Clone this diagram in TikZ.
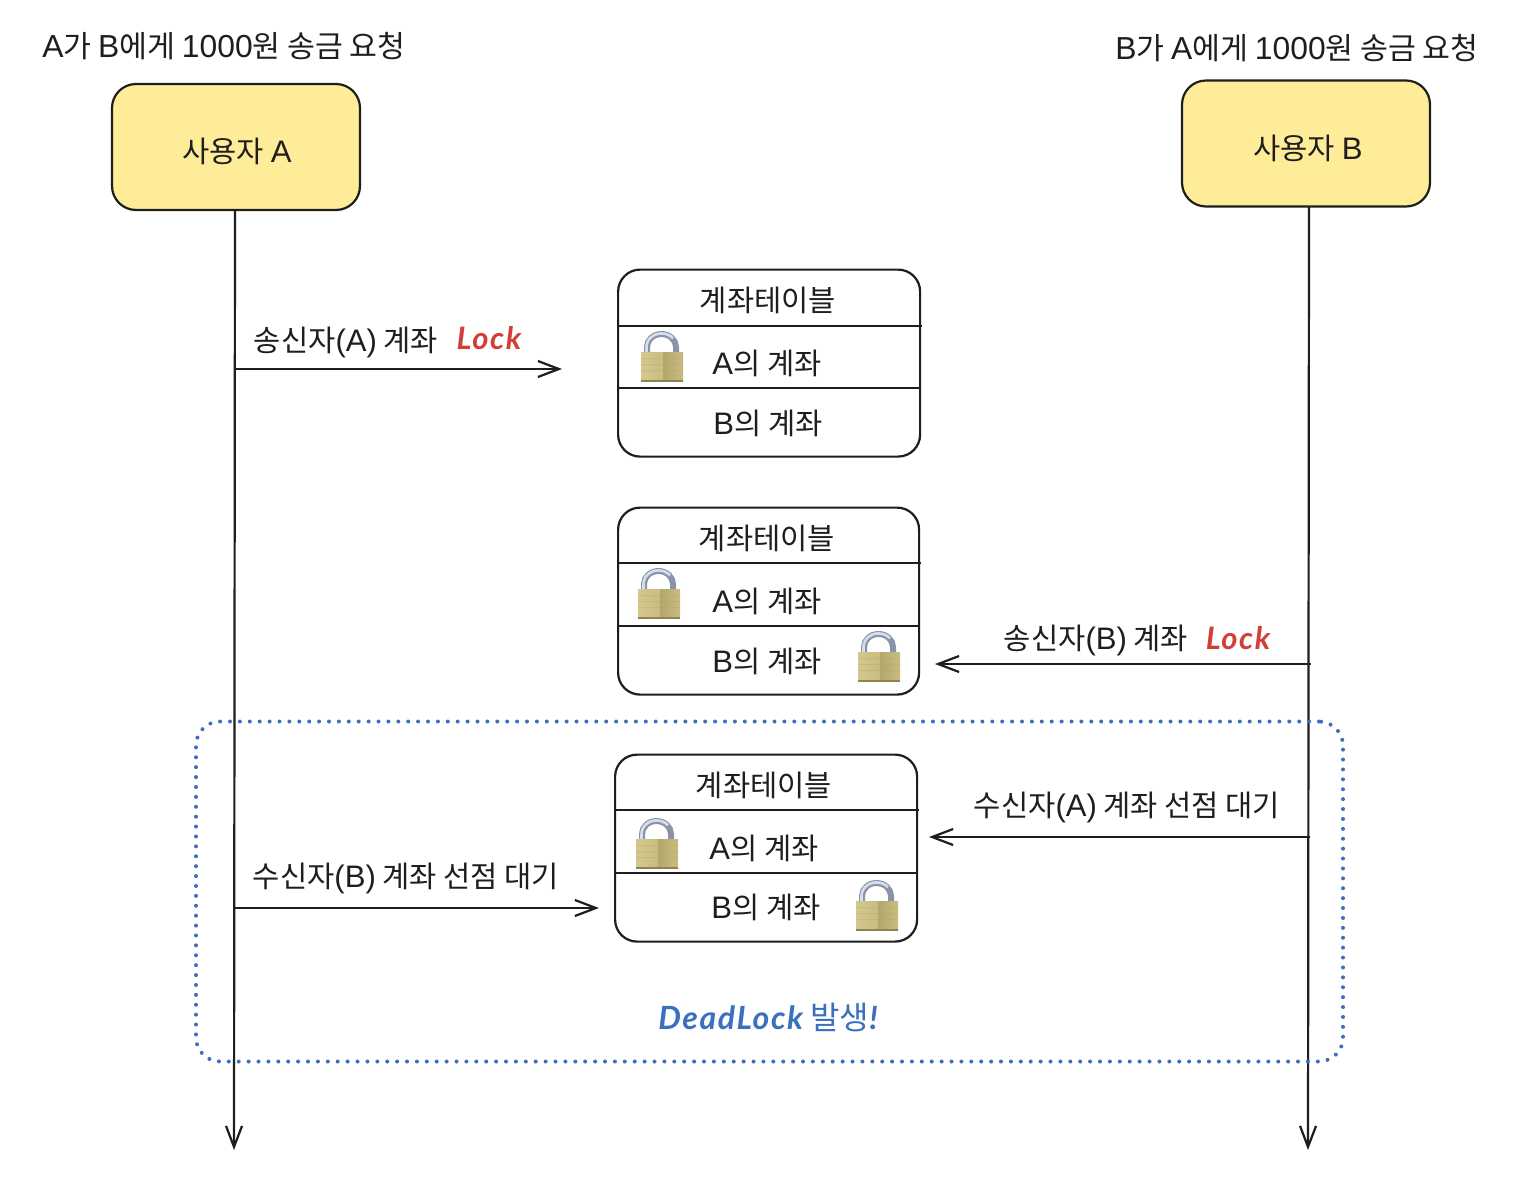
\documentclass[tikz,border=0pt]{standalone}
\usepackage{fontspec}
\setmainfont{Noto Sans CJK KR}
\newfontfamily\latf[Scale=1.05]{Liberation Sans}
\newfontfamily\handf[LetterSpace=5]{Lato}
\newcommand{\la}[1]{{\latf #1}}
\usetikzlibrary{arrows.meta}
\definecolor{ink}{HTML}{1E1E1E}
\definecolor{noteyellow}{HTML}{FFEC99}
\definecolor{lockred}{HTML}{D33F38}
\definecolor{dlblue}{HTML}{3A70BE}
\definecolor{lockshack}{HTML}{8A94A8}
\definecolor{lockshine}{HTML}{D5DEEE}
\definecolor{lockL}{HTML}{D4C88F}
\definecolor{lockM}{HTML}{C9BC80}
\definecolor{lockR}{HTML}{B4A76C}
\definecolor{lockD}{HTML}{8F8450}
\tikzset{
  x=1pt,y=-1pt,
  ink line/.style={draw=ink,line width=2.2pt},
  user box/.style={ink line,fill=noteyellow,rounded corners=24pt,minimum width=248pt,minimum height=126pt,inner sep=0pt},
  table box/.style={ink line,rounded corners=22pt,inner sep=0pt},
  label/.style={text=ink,inner sep=0pt,font=\fontsize{29.6}{35}\selectfont},
  title/.style={text=ink,inner sep=0pt,font=\fontsize{30.3}{36}\selectfont},
  lock word/.style={text=lockred,inner sep=0pt,font=\handf\itshape\bfseries\fontsize{31}{36}\selectfont},
  barb/.style={-{Straight Barb[length=21pt,width=16pt,line width=2.2pt]}},
  link/.style={ink line,barb},
}
\newcommand{\padlock}[2]{%
  \begin{scope}[shift={(#1,#2)}]
    \draw[line width=6pt,draw=lockshack] (6,24) -- (6,16) arc[start angle=180,end angle=360,x radius=14.5,y radius=13] -- (35,24);
    \draw[line width=2.6pt,draw=lockshine] (5.5,23) -- (5.5,16) arc[start angle=180,end angle=320,x radius=15,y radius=13.6];
    \fill[left color=lockL,right color=lockM] (0,21) rectangle (22,50);
    \fill[left color=lockR,right color=lockM] (22,21) rectangle (42,50);
    \fill[lockR,opacity=.35] (0,27) rectangle (42,28) (0,33) rectangle (42,34) (0,39) rectangle (42,40);
    \fill[lockD] (0,49) rectangle (42,51);
  \end{scope}}
\newcommand{\acctable}[7]{%
  \node[table box,minimum width=#3pt-#2pt,minimum height=#5pt-#4pt-1pt,anchor=north west] (#1) at (#2-1,#4-0.5) {};
  \coordinate (#1-a) at (#2-1,#6); \coordinate (#1-b) at (#3+2,#6);
  \coordinate (#1-c) at (#2-1,#7); \coordinate (#1-d) at (#3-1,#7);
  \draw[ink line] (#1-a) -- (#1-b);
  \draw[ink line] (#1-c) -- (#1-d);}
\begin{document}
\begin{tikzpicture}
\useasboundingbox[fill=white] (0,0) rectangle (1528,1184);
% users
\node[user box] (userA) at (236,147) {};
\node[label] (userAt) at (237,151.5) {사용자 \la{A}};
\node[user box] (userB) at (1306,143.5) {};
\node[label] (userBt) at (1308,148.5) {사용자 \la{B}};
\node[title] (titleA) at (224,46.5) {\la{A}가 \la{B}에게 \la{1000}원 송금 요청};
\node[title] (titleB) at (1297,48.5) {\la{B}가 \la{A}에게 \la{1000}원 송금 요청};
% lifelines
\coordinate (userAb) at (235,210);
\coordinate (userBb) at (1309,207);
\coordinate (endA) at (234,1150);
\coordinate (endB) at (1308,1150);
\draw[link] (userAb) -- (endA);
\draw[link] (userBb) -- (endB);
% tables
\acctable{t1}{618}{920}{269}{457}{326}{388}
\node[label] (t1h) at (768,300) {계좌테이블};
\node[label] (t1a) at (767,363) {\la{A}의 계좌};
\node[label] (t1b) at (768,423) {\la{B}의 계좌};
\padlock{641}{331}
\acctable{t2}{618}{919}{507}{695}{563}{626}
\node[label] (t2h) at (767,538) {계좌테이블};
\node[label] (t2a) at (767,601) {\la{A}의 계좌};
\node[label] (t2b) at (767,661) {\la{B}의 계좌};
\padlock{638}{568}
\padlock{858}{631}
\acctable{t3}{615}{917}{754}{942}{810}{873}
\node[label] (t3h) at (764,785) {계좌테이블};
\node[label] (t3a) at (764,848) {\la{A}의 계좌};
\node[label] (t3b) at (766,907) {\la{B}의 계좌};
\padlock{636}{818}
\padlock{856}{880}
% arrows
\coordinate (a1s) at (236,369); \coordinate (a1e) at (562,369);
\coordinate (a2s) at (1311,664); \coordinate (a2e) at (935,664);
\coordinate (a3s) at (1310,837); \coordinate (a3e) at (929,837);
\coordinate (a4s) at (235,908); \coordinate (a4e) at (599,908);
\draw[link] (a1s) -- (a1e);
\draw[link] (a2s) -- (a2e);
\draw[link] (a3s) -- (a3e);
\draw[link] (a4s) -- (a4e);
\node[label] (l1) at (346,342) {송신자\la{(A)} 계좌};
\node[lock word] (l1k) at (489,338) {Lock};
\node[label] (l2) at (1096,640) {송신자\la{(B)} 계좌};
\node[lock word] (l2k) at (1238,638) {Lock};
\node[label] (l3) at (1127,807) {수신자\la{(A)} 계좌 선점 대기};
\node[label] (l4) at (406,878) {수신자\la{(B)} 계좌 선점 대기};
% deadlock region
\node[draw=dlblue,line width=4pt,line cap=round,dash pattern=on 0pt off 9.9pt,rounded corners=24pt,minimum width=1147pt,minimum height=340pt,anchor=north west,inner sep=0pt] (zone) at (194,719.5) {};
\node[text=dlblue,inner sep=0pt,font=\fontsize{32}{37}\selectfont] (dl) at (768,1017) {{\handf\itshape\bfseries DeadLock} 발생{\handf\itshape\bfseries !}};
\end{tikzpicture}
\end{document}
